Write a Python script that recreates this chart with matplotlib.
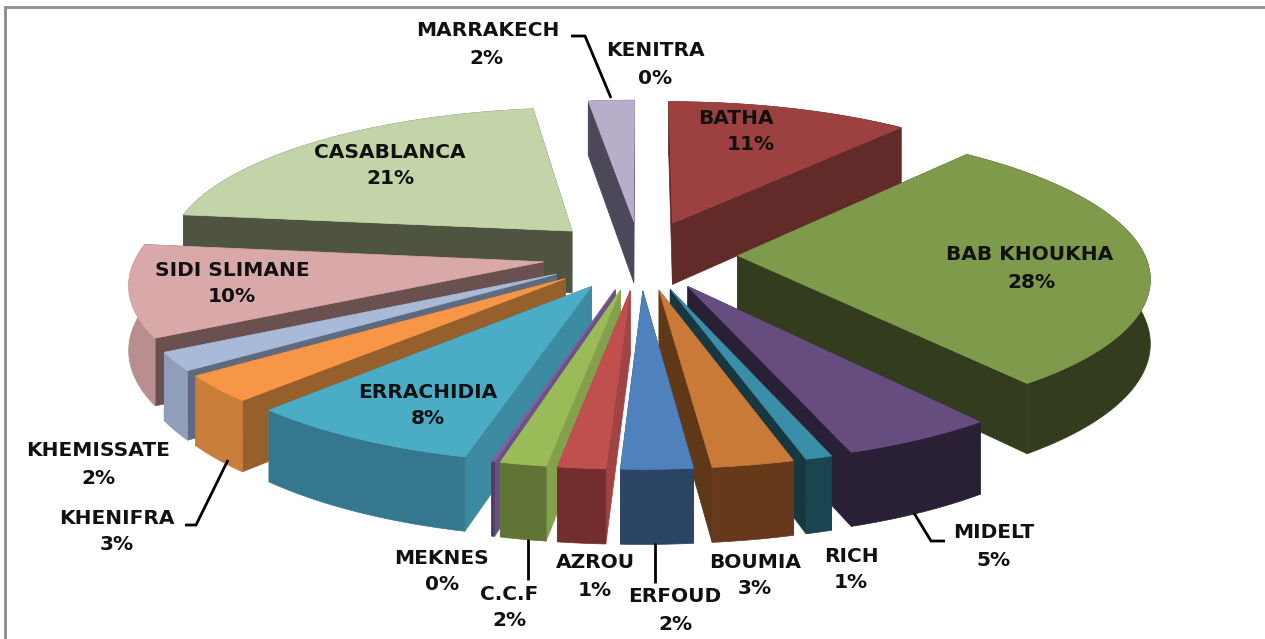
import matplotlib
matplotlib.use('Agg')
import matplotlib.pyplot as plt
from matplotlib.patches import Polygon
import numpy as np

# valeurs (sens horaire depuis midi)
names = ['BATHA', 'BAB KHOUKHA', 'MIDELT', 'RICH', 'BOUMIA', 'ERFOUD', 'AZROU', 'C.C.F',
         'MEKNES', 'ERRACHIDIA', 'KHENIFRA', 'KHEMISSATE', 'SIDI SLIMANE', 'CASABLANCA',
         'MARRAKECH', 'KENITRA']
values = [11.1, 28.4, 5.2, 0.9, 2.75, 2.4, 1.6, 1.55, 0.1, 8.0, 2.9, 2.0, 10.0, 21.0, 2.1, 0.0]
pct_labels = ['11%', '28%', '5%', '1%', '3%', '2%', '1%', '2%',
              '0%', '8%', '3%', '2%', '10%', '21%', '2%', '0%']

top_colors = ['#9c4040', '#7e9a4a', '#664d80', '#3b8ea7', '#c87a36', '#4f81bd', '#c0504d', '#9bbb59',
              '#8064a2', '#4bacc6', '#f79646', '#a9b9d8', '#d9a8a8', '#c3d5a8', '#b8aec9', '#a7d0e0']
arc_colors = ['#632a2a', '#333d1d', '#2a2036', '#1a4550', '#65391a', '#2c4565', '#722e2c', '#5f7435',
              '#4f3d66', '#35788e', '#c97e3a', '#8f9fbb', '#b88e8e', '#4e5440', '#4d4859', '#6f8f9c']
side_colors = ['#632a2a', '#333d1d', '#2a2036', '#173840', '#5f3818', '#2c4565', '#a04343', '#84a04c',
               '#6a5288', '#3d8ba3', '#96602c', '#5e6a80', '#6b5050', '#4e5440', '#4d4859', '#6f8f9c']

# position des textes et traits de rappel (pixels de l'image)
name_pos = [(736, 119), (1030, 255), (994, 533), (851, 557), (755, 562), (675, 597), (595, 563), (509, 595),
            (442, 558), (428, 392), (117, 518), (98, 450), (232, 270), (390, 152), (488, 30), (655, 50)]
pct_pos = [(751, 145), (1031, 282), (994, 560), (851, 583), (755, 589), (675, 624), (595, 590), (509, 621),
           (442, 585), (428, 419), (117, 545), (98, 478), (232, 296), (390, 179), (486, 58), (655, 78)]
leaders = [[(571, 36), (585, 36), (611, 98)],
           [(185, 525), (196, 525), (228, 460)],
           [(528, 539), (528, 580)],
           [(655, 543), (655, 583)],
           [(914, 513), (931, 541), (945, 541)]]

# perspective du camembert
cx, cy = 640, 255
ax_x, ax_y = 407, 145
persp = 0.13
depth = 63
explode = 0.24


def project(x, y, z=0.0):
    s = 1 / (1 + persp * y)
    return cx + ax_x * x * s, cy - ax_y * y * s + depth * z * s


fig = plt.figure(figsize=(12.65, 6.39), dpi=100)
ax = fig.add_axes([0, 0, 1, 1])
ax.set_xlim(0, 1265)
ax.set_ylim(639, 0)
ax.axis('off')

# cadre gris: seulement haut et gauche sont visibles
ax.plot([5, 5, 1265], [639, 7, 7], color='#8c8c8c', lw=2, solid_joinstyle='miter')

total = sum(values)
ends = np.cumsum(values) / total * 2 * np.pi
starts = ends - np.array(values) / total * 2 * np.pi
mids = (starts + ends) / 2

# on dessine de l'arrière vers l'avant
for i in np.argsort(-np.cos(mids)):
    if values[i] == 0:
        continue
    t = np.linspace(starts[i], ends[i], 60)
    ox, oy = explode * np.sin(mids[i]), explode * np.cos(mids[i])
    rim_x = ox + np.sin(t)
    rim_y = oy + np.cos(t)

    top = np.column_stack(project(rim_x, rim_y))
    low = np.column_stack(project(rim_x, rim_y, 1.0))
    tip_t = np.array(project(ox, oy))
    tip_b = np.array(project(ox, oy, 1.0))

    for edge_t, edge_b in [(top[0], low[0]), (top[-1], low[-1])]:
        ax.add_patch(Polygon([tip_t, edge_t, edge_b, tip_b], fc=side_colors[i], ec=side_colors[i], lw=0.5))
    ax.add_patch(Polygon(np.vstack([top, low[::-1]]), fc=arc_colors[i], ec=arc_colors[i], lw=0.5))
    ax.add_patch(Polygon(np.vstack([[tip_t], top]), fc=top_colors[i], ec=top_colors[i], lw=0.5))

for line in leaders:
    xs, ys = zip(*line)
    ax.plot(xs, ys, color='black', lw=2, solid_capstyle='butt')

for name, pct, p1, p2 in zip(names, pct_labels, name_pos, pct_pos):
    ax.text(p1[0], p1[1], name, ha='center', va='center', family='DejaVu Sans', fontweight='bold', fontsize=14.5, color='#111111')
    ax.text(p2[0], p2[1], pct, ha='center', va='center', family='DejaVu Sans', fontweight='bold', fontsize=14.5, color='#111111')

plt.savefig('out.png', dpi=100)
